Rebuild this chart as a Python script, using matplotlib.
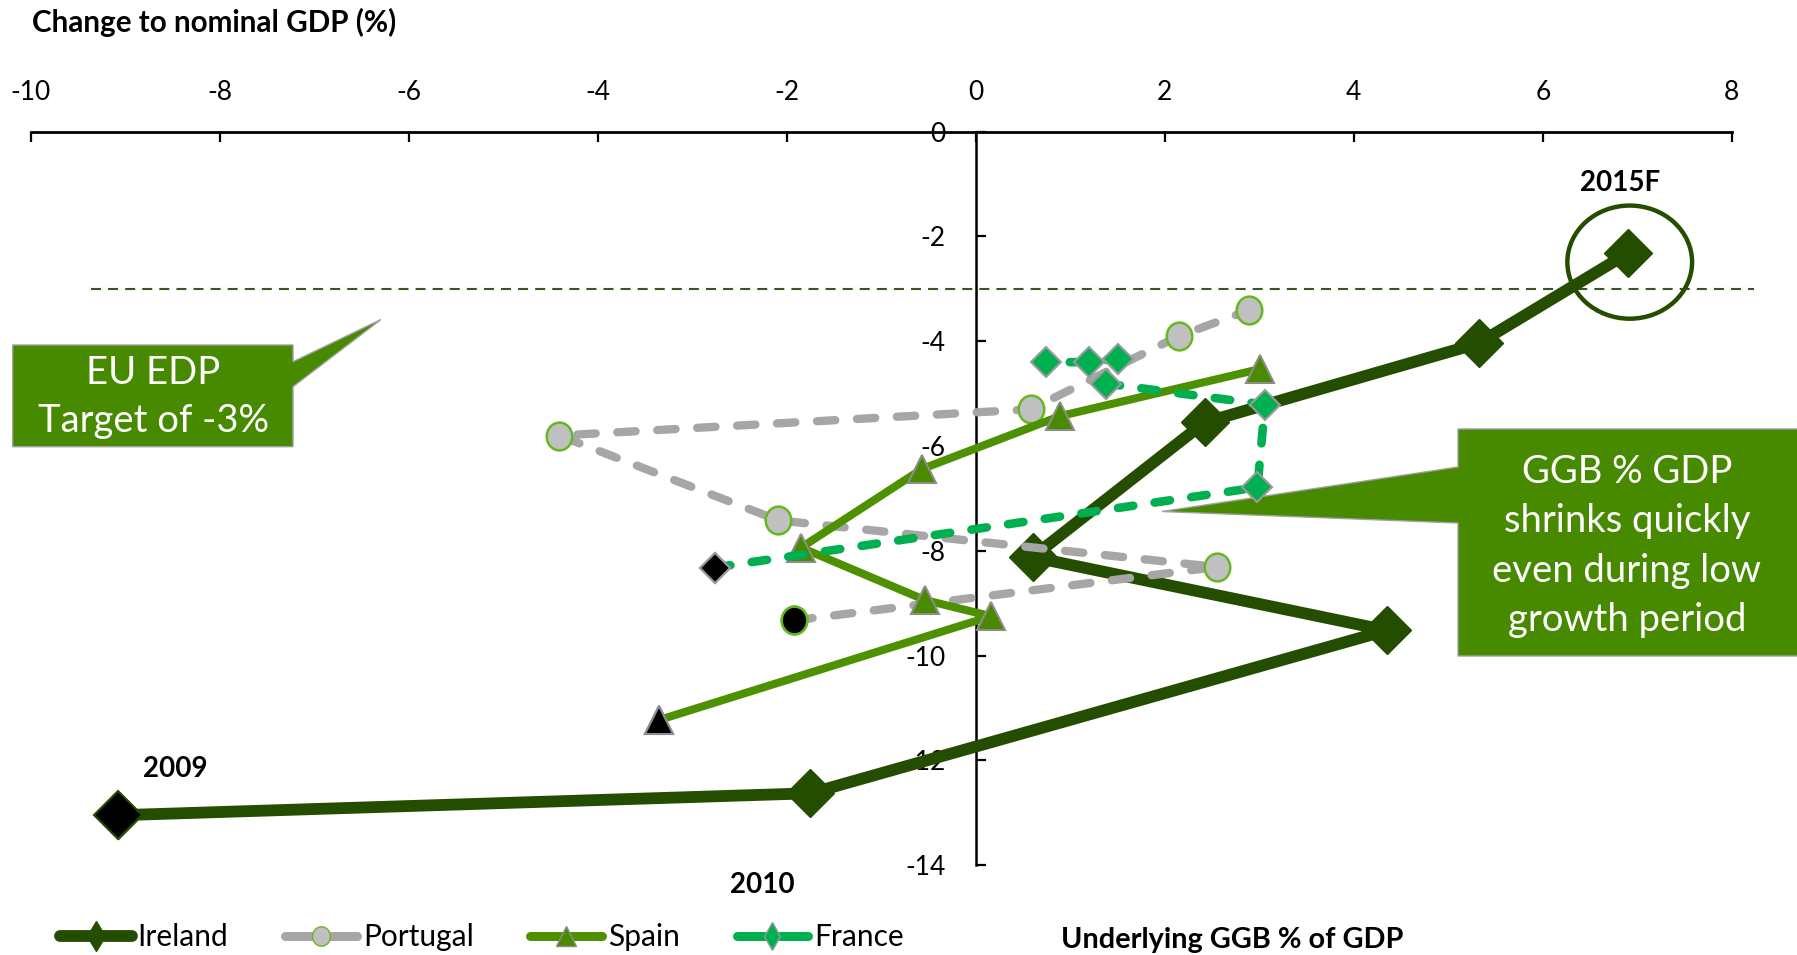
import matplotlib
matplotlib.use("Agg")
import matplotlib.pyplot as plt
from matplotlib.path import Path
from matplotlib.transforms import Affine2D
from matplotlib.patches import Ellipse, Polygon
from matplotlib.lines import Line2D

plt.rcParams['font.family'] = ['Lato', 'DejaVu Sans']
plt.rcParams['axes.unicode_minus'] = False

# ---- data -------------------------------------------------------------
years = ['2009', '2010', '2011', '2012', '2013', '2014', '2015F']

ireland_gdp = [-9.08, -1.75, 4.35, 0.60, 2.42, 5.32, 6.90]
ireland_ggb = [-13.05, -12.63, -9.52, -8.12, -5.55, -4.04, -2.32]

portugal_gdp = [-1.92, 2.55, -2.09, -4.41, 0.58, 2.15, 2.89]
portugal_ggb = [-9.33, -8.31, -7.42, -5.80, -5.30, -3.90, -3.41]

spain_gdp = [-3.35, 0.16, -0.54, -1.85, -0.57, 0.89, 3.01]
spain_ggb = [-11.23, -9.25, -8.94, -7.94, -6.44, -5.43, -4.53]

france_gdp = [-2.76, 2.98, 3.06, 1.38, 1.50, 1.20, 0.74]
france_ggb = [-8.32, -6.79, -5.21, -4.81, -4.33, -4.40, -4.40]

edp_target = -3.0
x_ticks = list(range(-10, 9, 2))
y_ticks = list(range(0, -15, -2))

# ---- styling ------------------------------------------------------------
IRL = '#254d00'
POR = '#a6a6a6'
ESP = '#4e9100'
FRA = '#00b050'
BOX = '#478a00'

W, H = 1797, 955
fig = plt.figure(figsize=(W / 100, H / 100), dpi=100)
ax = fig.add_axes([0.0172, 0.0942, 0.9465, 0.7679])


def px(x, y):
    """pixel position (from top-left) -> figure fraction"""
    return (x / W, 1 - y / H)


ellipse_path = Path.unit_circle().transformed(Affine2D().scale(0.92, 1.0))

ax.set_xlim(x_ticks[0], x_ticks[-1])
ax.set_ylim(y_ticks[-1], y_ticks[0])
ax.set_xticks(x_ticks)
ax.set_yticks(y_ticks)
ax.xaxis.tick_top()
for s in ('right', 'bottom'):
    ax.spines[s].set_visible(False)
ax.spines['top'].set_linewidth(2)
ax.spines['left'].set_position(('data', 0))
ax.spines['left'].set_linewidth(1.8)
ax.tick_params(axis='x', direction='in', length=7, width=1.6, pad=19,
               labelsize=19)
ax.tick_params(axis='y', direction='in', length=7, width=1.6, pad=22,
               labelsize=19)

# EDP target reference line
ax.axhline(edp_target, xmin=0.0356, xmax=1.0128, color='#375623', lw=1.5,
           dashes=(4.8, 3.4), clip_on=False, zorder=1)

# callout boxes (drawn beneath the series)
edp_box = [px(12.7, 345), px(293, 345), px(293, 361.7), px(381, 319.5),
           px(293, 386.7), px(293, 446.7), px(12.7, 446.7)]
fig.patches.append(Polygon(edp_box, closed=True, transform=fig.transFigure,
                           facecolor=BOX, edgecolor='#a0a0a0', lw=1,
                           zorder=0))
ggb_box = [px(1458, 429), px(1800, 429), px(1800, 656), px(1458, 656),
           px(1458, 523), px(1162, 511.5), px(1458, 467)]
fig.patches.append(Polygon(ggb_box, closed=True, transform=fig.transFigure,
                           facecolor=BOX, edgecolor='#a0a0a0', lw=1,
                           zorder=0))
ax.set_zorder(1)
ax.patch.set_alpha(0)

fig.text(*px(153, 397), 'EU EDP\nTarget of -3%', color='white',
         fontsize=27.5, ha='center', va='center', linespacing=1.42, zorder=5)
fig.text(*px(1627, 546),
         'GGB % GDP\nshrinks quickly\neven during low\ngrowth period',
         color='white', fontsize=27.5, ha='center', va='center',
         linespacing=1.47, zorder=5)

# series
ax.plot(ireland_gdp, ireland_ggb, color=IRL, lw=8.5, marker='D', ms=24.5,
        mfc=IRL, mec=IRL, zorder=3)
ax.plot(ireland_gdp[:1], ireland_ggb[:1], ls='none', marker='D', ms=24.5,
        mfc='black', mec=IRL, mew=1.5, zorder=3.1)

ax.plot(portugal_gdp, portugal_ggb, color=POR, lw=6, ls=(0, (2.2, 2.6)),
        dash_capstyle='round', marker=ellipse_path, ms=20, mfc='#c0c0c0',
        mec='#66b821', mew=1.8, zorder=4)
ax.plot(portugal_gdp[:1], portugal_ggb[:1], ls='none', marker=ellipse_path,
        ms=20, mfc='black', mec='#66b821', mew=1.8, zorder=4.1)

ax.plot(spain_gdp, spain_ggb, color=ESP, lw=5.8, marker='^', ms=20,
        mfc='#4a8a00', mec='#8c8c8c', mew=1.5, zorder=5)
ax.plot(spain_gdp[:1], spain_ggb[:1], ls='none', marker='^', ms=20,
        mfc='black', mec='#8c8c8c', mew=1.5, zorder=5.1)

ax.plot(france_gdp, france_ggb, color=FRA, lw=6.2, ls=(0, (1.8, 2.5)),
        dash_capstyle='round', marker='D', ms=15, mfc=FRA, mec='#9a9a9a',
        mew=1.5, zorder=6)
ax.plot(france_gdp[:1], france_ggb[:1], ls='none', marker='D', ms=15,
        mfc='black', mec='#9a9a9a', mew=1.5, zorder=6.1)

# highlight the forecast year
ax.add_patch(Ellipse((ireland_gdp[-1] + 0.02, ireland_ggb[-1] - 0.17),
                     width=1.32, height=2.16, fill=False, edgecolor=IRL,
                     lw=3.2, zorder=7))

# year labels
label_kw = dict(textcoords='offset points', ha='center', va='center',
                fontsize=20, fontweight='bold', zorder=8)
ax.annotate(years[0], (ireland_gdp[0], ireland_ggb[0]), xytext=(41, 33.5),
            **label_kw)
ax.annotate(years[1], (ireland_gdp[1], ireland_ggb[1]), xytext=(-34.4, -65.7),
            **label_kw)
ax.annotate(years[-1], (ireland_gdp[-1], ireland_ggb[-1]), xytext=(-5.3, 50.5),
            **label_kw)

# axis titles
fig.text(*px(32, 22.5), 'Change to nominal GDP (%)', fontsize=21.3,
         fontweight='bold', ha='left', va='center')
fig.text(*px(1232, 940), 'Underlying GGB % of GDP', fontsize=20.8,
         fontweight='bold', ha='center', va='center')

# legend
handles = [
    Line2D([], [], color=IRL, lw=8.5, marker='d', ms=15, mfc=IRL, mec=IRL,
           solid_capstyle='round'),
    Line2D([], [], color=POR, lw=6.5, marker=ellipse_path, ms=14,
           mfc='#c0c0c0', mec='#66b821', solid_capstyle='round'),
    Line2D([], [], color=ESP, lw=6.5, marker='^', ms=14, mfc='#4a8a00',
           mec='#8c8c8c', solid_capstyle='round'),
    Line2D([], [], color=FRA, lw=6.5, marker='d', ms=14, mfc=FRA,
           mec='#9a9a9a', solid_capstyle='round'),
]
fig.legend(handles, ['Ireland', 'Portugal', 'Spain', 'France'],
           loc='center left', bbox_to_anchor=px(60, 937), ncol=4,
           frameon=False, fontsize=21.5, handlelength=2.4, handletextpad=0.2,
           columnspacing=1.9, borderpad=0, borderaxespad=0)

fig.savefig('out.png', dpi=100)
